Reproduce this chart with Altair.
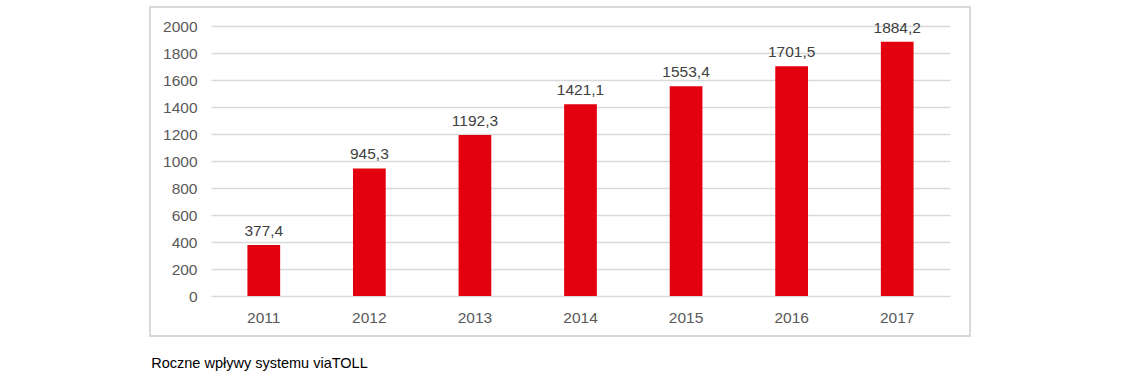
import altair as alt
import pandas as pd

years = ["2011", "2012", "2013", "2014", "2015", "2016", "2017"]
values = [377.4, 945.3, 1192.3, 1421.1, 1553.4, 1701.5, 1884.2]
labels = [f"{v:.1f}".replace(".", ",") for v in values]
y_ticks = list(range(0, 2001, 200))
caption = "Roczne wpływy systemu viaTOLL"

df = pd.DataFrame({"year": years, "value": values, "label": labels})

FONT = "Liberation Sans"
FS = 15.5

x = alt.X("year:N", title=None, sort=years,
          scale=alt.Scale(paddingInner=0.69, paddingOuter=0.345),
          axis=alt.Axis(labelAngle=0, ticks=False, domain=False, labelPadding=14,
                        labelFontSize=FS, labelColor="#595959", labelFont=FONT))
y = alt.Y("value:Q", title=None,
          scale=alt.Scale(domain=[0, 2000], nice=False),
          axis=alt.Axis(values=y_ticks, tickCount=11, format="d", labelOverlap=False,
                        ticks=False, domain=False, labelPadding=14,
                        labelFontSize=FS, labelColor="#595959", labelFont=FONT,
                        gridColor="#d9d9d9", gridWidth=1.3))

frame = alt.Chart(df).mark_rect(filled=False, stroke="#d9d9d9", strokeWidth=1.5).encode(
    x=alt.value(-61), x2=alt.value(759), y=alt.value(-19), y2=alt.value(310)
)

bars = alt.Chart(df).mark_bar(color="#E3000F").encode(x=x, y=y)

text = alt.Chart(df).mark_text(baseline="alphabetic", dy=-9, fontSize=FS,
                               color="#404040", font=FONT).encode(
    x=x, y=y, text="label:N"
)

chart = alt.layer(frame, bars, text).properties(
    width=739, height=270,
    autosize=alt.AutoSizeParams(type="none"),
    padding={"left": 211, "top": 26, "right": 178, "bottom": 81},
    title=alt.TitleParams(caption, orient="bottom", anchor="start", dx=2, offset=20,
                          fontSize=14.5, font=FONT, fontWeight="normal", color="#000000"),
    background="white",
).configure_view(stroke=None)

chart.save("out.html", embed_options={"renderer": "svg", "actions": False})
